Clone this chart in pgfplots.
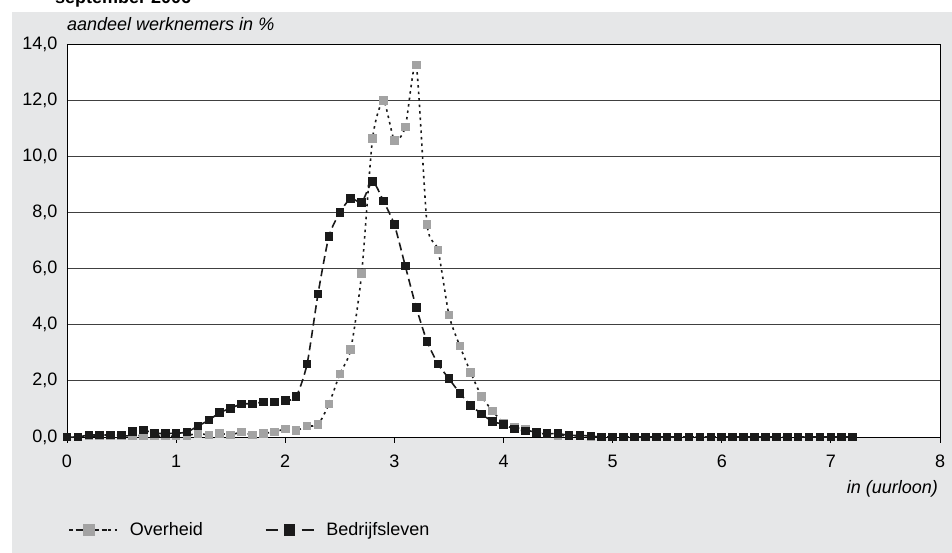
\documentclass[border=0pt]{standalone}
\usepackage{pgfplots}
\pgfplotsset{compat=1.18}
\usepackage{fontspec}
\setmainfont{Liberation Sans}
\definecolor{bggray}{HTML}{E6E7E8}
\definecolor{ovgray}{HTML}{A3A3A3}
\definecolor{bdblack}{HTML}{1A1A1A}
\pgfplotsset{
  ovlegend/.style={legend image code/.code={\path (0pt,0pt) -- (48pt,0pt);
    \draw[##1, dash pattern=on 4pt off 4.5pt, mark=none] (0pt,0pt) -- (40pt,0pt);
    \draw[##1, mark size=5pt] plot coordinates {(20pt,0pt)};}},
  bdlegend/.style={legend image code/.code={
    \draw[##1, dash pattern=on 12pt off 24pt, mark=none] (0pt,0pt) -- (48pt,0pt);
    \draw[##1, mark size=5pt] plot coordinates {(24pt,0pt)};}},
}
\begin{document}
\begin{tikzpicture}[x=1pt,y=1pt]
\useasboundingbox (-67,-116) rectangle (885,437);
\fill[bggray] (-55,-116) rectangle (885,425);
\begin{scope}
\clip (-67,-116) rectangle (885,437);
\node[anchor=base west,font=\fontsize{18}{21}\selectfont\bfseries,inner sep=0pt] at (-12,433) {september 2006};
\end{scope}
\begin{axis}[
  at={(0,0)}, anchor=origin,
  scale only axis, width=873pt, height=393pt,
  xmin=0, xmax=8, ymin=0, ymax=14,
  xtick={0,1,...,8}, ytick={0,2,...,14},
  axis background/.style={fill=white},
  axis line style={black, line width=0.8pt},
  ymajorgrids, grid style={black!75, line width=0.8pt},
  tick style={black, line width=0.8pt},
  xtick pos=bottom, ytick pos=left,
  xtick align=outside, ytick style={draw=none},
  major tick length=6pt,
  tick label style={font=\fontsize{18}{21}\selectfont},
  /pgf/number format/assume math mode=true,
  yticklabel={\pgfmathprintnumber[fixed,fixed zerofill,precision=1,use comma]{\tick}},
  xticklabel={\pgfmathprintnumber{\tick}},
  yticklabel style={xshift=-6pt},
  xticklabel style={yshift=-8.5pt},
  clip=false,
  legend style={at={(rel axis cs:0,0)}, anchor=west, xshift=-2pt, yshift=-93pt,
    draw=none, fill=none, font=\fontsize{18}{21}\selectfont,
    legend columns=2,
    /tikz/every odd column/.append style={column sep=10pt},
    /tikz/every even column/.append style={column sep=60pt}},
]
\addplot[smooth, tension=0.4, line width=1.6pt, bdblack, dash pattern=on 2.5pt off 4pt,
  mark=square*, mark size=3.5pt, mark options={solid, fill=ovgray, draw=ovgray}, ovlegend] coordinates {
(0.0,0.0) (0.1,0.0) (0.2,0.03) (0.3,0.03) (0.4,0.03) (0.5,0.03) (0.6,0.05) (0.7,0.05) (0.8,0.03) (0.9,0.03)
(1.0,0.03) (1.1,0.05) (1.2,0.13) (1.3,0.07) (1.4,0.13) (1.5,0.07) (1.6,0.18) (1.7,0.07) (1.8,0.13) (1.9,0.18)
(2.0,0.28) (2.1,0.23) (2.2,0.39) (2.3,0.44) (2.4,1.17) (2.5,2.24) (2.6,3.12) (2.7,5.82) (2.8,10.63) (2.9,11.98)
(3.0,10.57) (3.1,11.04) (3.2,13.25) (3.3,7.56) (3.4,6.66) (3.5,4.35) (3.6,3.24) (3.7,2.29) (3.8,1.44) (3.9,0.93)
(4.0,0.5) (4.1,0.35) (4.2,0.27) (4.3,0.15) (4.4,0.1) (4.5,0.06) (4.6,0.05) (4.7,0.03) (4.8,0.02) (4.9,0.0)
(5.0,0.0) (5.1,0.0) (5.2,0.0) (5.3,0.0) (5.4,0.0) (5.5,0.0) (5.6,0.0) (5.7,0.0) (5.8,0.0) (5.9,0.0)
(6.0,0.0) (6.1,0.0) (6.2,0.0) (6.3,0.0) (6.4,0.0) (6.5,0.0) (6.6,0.0) (6.7,0.0) (6.8,0.0) (6.9,0.0)
(7.0,0.0) (7.1,0.0) (7.2,0.0)
};
\addlegendentry{Overheid}
\addplot[smooth, tension=0.4, line width=1.6pt, bdblack, dash pattern=on 8pt off 4.5pt,
  mark=square*, mark size=3.5pt, mark options={solid, fill=bdblack, draw=bdblack}, bdlegend] coordinates {
(0.0,0.0) (0.1,0.0) (0.2,0.07) (0.3,0.07) (0.4,0.07) (0.5,0.07) (0.6,0.19) (0.7,0.25) (0.8,0.13) (0.9,0.13)
(1.0,0.13) (1.1,0.18) (1.2,0.39) (1.3,0.6) (1.4,0.87) (1.5,1.02) (1.6,1.18) (1.7,1.18) (1.8,1.25) (1.9,1.25)
(2.0,1.29) (2.1,1.44) (2.2,2.6) (2.3,5.09) (2.4,7.14) (2.5,7.99) (2.6,8.5) (2.7,8.36) (2.8,9.1) (2.9,8.4)
(3.0,7.56) (3.1,6.09) (3.2,4.62) (3.3,3.4) (3.4,2.6) (3.5,2.08) (3.6,1.56) (3.7,1.13) (3.8,0.82) (3.9,0.55)
(4.0,0.45) (4.1,0.28) (4.2,0.22) (4.3,0.17) (4.4,0.12) (4.5,0.12) (4.6,0.06) (4.7,0.06) (4.8,0.03) (4.9,0.0)
(5.0,0.0) (5.1,0.0) (5.2,0.0) (5.3,0.0) (5.4,0.0) (5.5,0.0) (5.6,0.0) (5.7,0.0) (5.8,0.0) (5.9,0.0)
(6.0,0.0) (6.1,0.0) (6.2,0.0) (6.3,0.0) (6.4,0.0) (6.5,0.0) (6.6,0.0) (6.7,0.0) (6.8,0.0) (6.9,0.0)
(7.0,0.0) (7.1,0.0) (7.2,0.0)
};
\addlegendentry{Bedrijfsleven}
\end{axis}
\node[anchor=base west,font=\fontsize{18}{21}\selectfont\itshape,inner sep=0pt] at (0,406) {aandeel werknemers in \%};
\node[anchor=base east,font=\fontsize{18}{21}\selectfont\itshape,inner sep=0pt] at (871,-57) {in (uurloon)};
\end{tikzpicture}
\end{document}
